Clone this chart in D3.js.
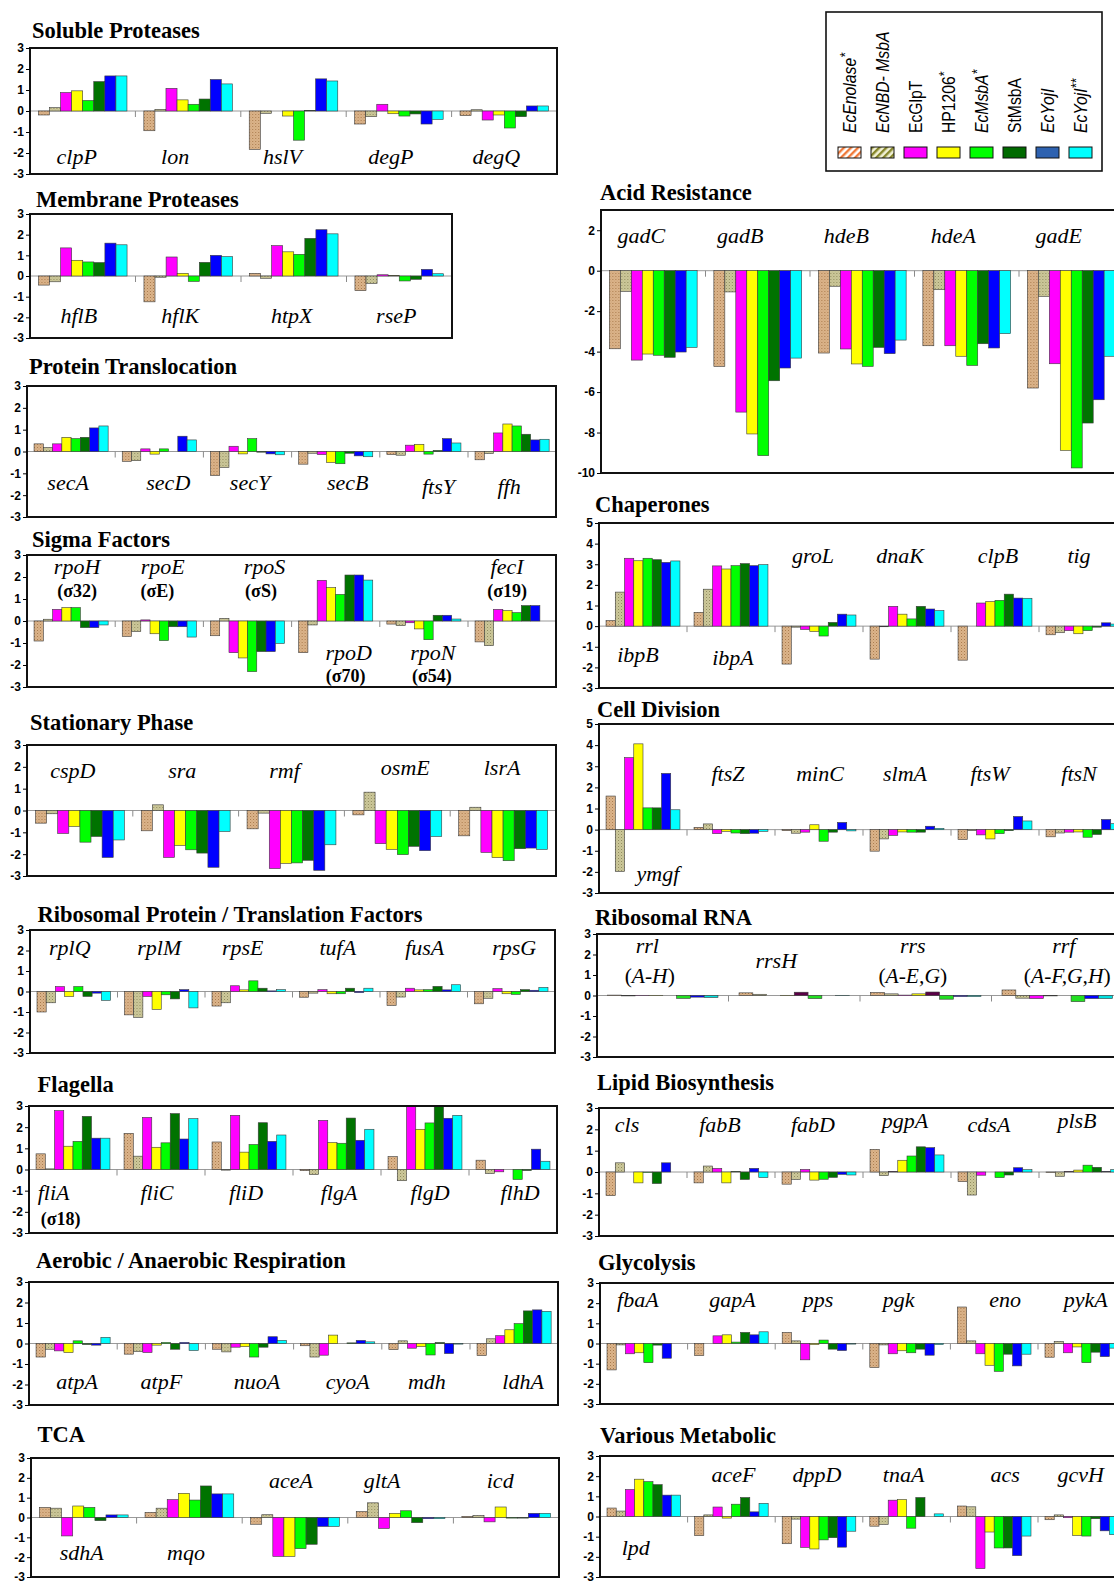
<!DOCTYPE html>
<html><head><meta charset="utf-8">
<script src="https://cdn.jsdelivr.net/npm/d3@7"></script>
<style>body{margin:0;background:#fff;overflow:hidden}svg{display:block}</style>
</head><body><svg id="c" width="1114" height="1584"></svg>
<script>
// ---------- data ----------
const seriesNames = ["EcEnolase*","EcNBD- MsbA","EcGlpT","HP1206*","EcMsbA*","StMsbA","EcYojI","EcYojI**"];
const seriesItalic = [true,true,false,false,true,false,true,true];
const seriesFills = ["url(#tan)","url(#khaki)","#ff00ff","#ffff00","#00ff00","#007300","#0000ff","#00ffff"];
const legendFills = ["url(#legTan)","url(#legKhaki)","#ff00ff","#ffff00","#00ff00","#006a00","#2e62b0","#00ffff"];
const rnaFills = ["url(#tan)","url(#khaki)","#ff00ff","#ffff00","#5a0046","#22e022","#0000ff","#00e0e0"];

const ticks3 = [3,2,1,0,-1,-2,-3];
const ticksAcid = [2,0,-2,-4,-6,-8,-10];
const ticks5 = [5,4,3,2,1,0,-1,-2,-3];

const solubleGenes = ["clpP","lon","hslV","degP","degQ"];
const solubleValues = [
 [-0.19,0.16,0.88,0.96,0.5,1.4,1.67,1.67],
 [-0.94,0.08,1.08,0.53,0.32,0.57,1.5,1.29],
 [-1.83,-0.11,0,-0.24,-1.39,0.03,1.53,1.43],
 [-0.62,-0.27,0.32,-0.13,-0.24,-0.14,-0.62,-0.4],
 [-0.22,0.06,-0.43,-0.19,-0.81,-0.27,0.24,0.24]];

const membraneGenes = ["hflB","hflK","htpX","rseP"];
const membraneValues = [
 [-0.44,-0.28,1.36,0.76,0.68,0.65,1.59,1.51],
 [-1.25,-0.06,0.92,0.13,-0.26,0.66,1.0,0.94],
 [0.13,-0.11,1.47,1.17,1.05,1.82,2.24,2.04],
 [-0.71,-0.36,0.06,0.03,-0.24,-0.16,0.32,0.11]];

const translocGenes = ["secA","secD","secY","secB","ftsY","ffh"];
const translocValues = [
 [0.35,0.18,0.35,0.65,0.59,0.65,1.08,1.17],
 [-0.45,-0.42,0.12,-0.12,0.12,0.0,0.7,0.53],
 [-1.1,-0.73,0.24,-0.11,0.59,-0.03,-0.11,-0.15],
 [-0.58,-0.08,-0.14,-0.5,-0.56,-0.08,-0.2,-0.24],
 [-0.14,-0.17,0.29,0.33,-0.12,0.05,0.59,0.39],
 [-0.38,-0.09,0.85,1.26,1.17,0.79,0.53,0.56]];

const sigmaGenes = ["rpoH","rpoE","rpoS","rpoD","rpoN","fecI"];
const sigmaSubs = ["(σ32)","(σE)","(σS)","(σ70)","(σ54)","(σ19)"];
const sigmaValues = [
 [-0.91,0.08,0.53,0.61,0.61,-0.3,-0.3,-0.18],
 [-0.7,-0.48,0.05,-0.58,-0.89,-0.26,-0.26,-0.73],
 [-0.67,0.12,-1.44,-1.68,-2.3,-1.39,-1.39,-1.02],
 [-1.44,-0.18,1.85,1.52,1.21,2.09,2.09,1.86],
 [-0.14,-0.21,-0.08,-0.36,-0.85,0.26,0.26,0.09],
 [-0.95,-1.12,0.53,0.47,0.38,0.7,0.7,0]];

const stationaryGenes = ["cspD","sra","rmf","osmE","lsrA"];
const stationaryValues = [
 [-0.58,-0.15,-1.05,-0.73,-1.45,-1.19,-2.15,-1.35],
 [-0.93,0.26,-2.15,-1.6,-1.8,-1.95,-2.6,-0.96],
 [-0.84,-0.12,-2.66,-2.42,-2.4,-2.28,-2.74,-1.57],
 [-0.2,0.84,-1.52,-1.78,-2.02,-1.64,-1.84,-1.19],
 [-1.16,0.15,-1.92,-2.16,-2.3,-1.75,-1.72,-1.78]];

const riboGenes = ["rplQ","rplM","rpsE","tufA","fusA","rpsG"];
const riboValues = [
 [-1.0,-0.55,0.24,-0.24,0.24,-0.24,-0.08,-0.43],
 [-1.14,-1.26,-0.24,-0.87,-0.16,-0.36,0.09,-0.8],
 [-0.71,-0.55,0.28,0.08,0.52,0.16,0.03,0.09],
 [-0.28,-0.08,0.09,-0.11,-0.11,0.16,-0.05,0.16],
 [-0.68,-0.27,0.16,0.08,0.09,0.25,0.08,0.33],
 [-0.6,-0.33,0.14,-0.11,-0.14,0.09,0.06,0.2]];

const flagellaGenes = ["fliA","fliC","fliD","flgA","flgD","flhD"];
const flagellaSubs = ["(σ18)","","","","",""];
const flagellaValues = [
 [0.74,0.03,2.78,1.1,1.33,2.51,1.48,1.48],
 [1.71,0.63,2.46,1.05,1.26,2.64,1.44,2.4],
 [1.3,-0.03,2.56,0.82,1.18,2.21,1.33,1.63],
 [-0.05,-0.24,2.32,1.27,1.24,2.43,1.38,1.9],
 [0.61,-0.53,3.1,1.9,2.2,3.1,2.42,2.56],
 [0.44,-0.19,-0.11,0.0,-0.47,-0.05,0.96,0.39]];

const aerobicGenes = ["atpA","atpF","nuoA","cyoA","mdh","ldhA"];
const aerobicValues = [
 [-0.66,-0.28,-0.36,-0.44,0.13,-0.05,-0.08,0.3],
 [-0.52,-0.39,-0.44,-0.08,0.05,-0.28,0.05,-0.34],
 [-0.28,-0.41,-0.18,-0.15,-0.66,-0.18,0.33,0.15],
 [-0.11,-0.66,-0.57,0.41,0.0,0.03,0.15,0.08],
 [-0.3,0.13,-0.23,-0.15,-0.56,0.05,-0.49,-0.03],
 [-0.59,0.23,0.38,0.67,0.97,1.59,1.64,1.57]];

const tcaGenes = ["sdhA","mqo","aceA","gltA","icd"];
const tcaValues = [
 [0.51,0.47,-0.93,0.58,0.51,-0.16,0.13,0.13],
 [0.26,0.47,0.9,1.22,0.88,1.59,1.19,1.19],
 [-0.34,0.14,-1.96,-1.96,-1.57,-1.35,-0.45,-0.45],
 [0.3,0.74,-0.55,0.21,0.34,-0.26,-0.06,-0.06],
 [0.06,0.1,-0.22,0.53,-0.03,-0.03,0.21,0.21]];

const acidGenes = ["gadC","gadB","hdeB","hdeA","gadE"];
const acidValues = [
 [-3.86,-1.02,-4.42,-4.12,-4.18,-4.28,-4.02,-3.79],
 [-4.73,-1.05,-6.99,-8.07,-9.14,-5.44,-4.81,-4.32],
 [-4.07,-0.77,-3.87,-4.61,-4.73,-3.79,-4.1,-3.43],
 [-3.71,-0.94,-3.71,-4.23,-4.68,-3.61,-3.82,-3.11],
 [-5.8,-1.27,-4.6,-8.88,-9.75,-7.53,-6.38,-4.23]];

const chaperoneGenes = ["ibpB","ibpA","groL","dnaK","clpB","tig"];
const chaperoneValues = [
 [0.27,1.65,3.29,3.17,3.29,3.22,3.09,3.16],
 [0.67,1.79,2.92,2.77,2.93,3.03,2.93,2.98],
 [-1.84,-0.05,-0.16,-0.26,-0.48,0.18,0.58,0.54],
 [-1.6,-0.03,0.96,0.58,0.35,0.96,0.83,0.75],
 [-1.65,0,1.12,1.19,1.25,1.55,1.36,1.35],
 [-0.42,-0.32,-0.22,-0.37,-0.22,-0.05,0.16,0.1]];

const divisionGenes = ["ymgf","ftsZ","minC","slmA","ftsW","ftsN"];
const divisionValues = [
 [1.59,-1.98,3.41,4.06,1.03,1.03,2.66,0.94],
 [0.11,0.27,-0.19,-0.08,-0.16,-0.19,-0.17,-0.08],
 [-0.05,-0.17,-0.12,0.23,-0.55,-0.12,0.34,-0.06],
 [-1.02,-0.44,-0.27,-0.11,-0.12,-0.12,0.16,0.06],
 [-0.47,-0.05,-0.25,-0.44,-0.19,-0.05,0.62,0.41],
 [-0.34,-0.16,-0.12,-0.11,-0.36,-0.23,0.48,0.28]];

const rnaGenes = ["rrl","rrsH","rrs","rrf"];
const rnaSubs = ["(A-H)","","(A-E,G)","(A-F,G,H)"];
const rnaValues = [
 [0.02,-0.02,0.01,0.01,0.0,-0.14,-0.08,-0.1],
 [0.13,0.06,0.0,0.01,0.16,-0.15,0.0,0.01],
 [0.15,0.08,0.02,0.08,0.17,-0.18,-0.05,-0.05],
 [0.27,-0.13,-0.15,-0.02,0.0,-0.3,-0.15,-0.15]];

const lipidGenes = ["cls","fabB","fabD","pgpA","cdsA","plsB"];
const lipidValues = [
 [-1.11,0.43,0,-0.51,-0.02,-0.54,0.43,0],
 [-0.51,0.28,0.17,-0.51,0.02,-0.35,0.17,-0.26],
 [-0.57,-0.35,0.12,-0.38,-0.34,-0.25,-0.11,-0.14],
 [1.06,-0.17,0.02,0.55,0.75,1.18,1.14,0.8],
 [-0.45,-1.08,-0.15,0,-0.26,-0.14,0.2,0.11],
 [-0.02,-0.2,0.02,0.09,0.32,0.22,0.02,0.11]];

const glycoGenes = ["fbaA","gapA","pps","pgk","eno","pykA"];
const glycoValues = [
 [-1.31,-0.07,-0.51,-0.46,-0.95,-0.08,-0.73,0],
 [-0.6,0,0.38,0.43,0.07,0.55,0.43,0.58],
 [0.55,0.13,-0.81,-0.05,0.17,-0.28,-0.35,-0.03],
 [-1.19,-0.07,-0.51,-0.36,-0.46,-0.28,-0.58,-0.05],
 [1.81,0.13,-0.51,-1.08,-1.38,-0.53,-1.11,-0.53],
 [-0.68,0.1,-0.46,-0.17,-0.95,-0.43,-0.65,-0.23]];

const variousGenes = ["lpd","aceF","dppD","tnaA","acs","gcvH"];
const variousValues = [
 [0.42,0.27,1.34,1.85,1.73,1.58,1.06,1.06],
 [-0.95,0.08,0.47,-0.08,0.61,0.94,0.23,0.65],
 [-1.35,-0.13,-1.53,-1.61,-1.16,-1.05,-1.52,-0.73],
 [-0.48,-0.39,0.81,0.84,-0.58,0.94,0,0.13],
 [0.52,0.48,-2.58,-0.77,-1.56,-1.56,-1.94,-0.97],
 [-0.16,0.08,-0.06,-0.94,-0.97,-0.11,-0.71,-0.9]];

// ---------- layout (positions only) ----------
const rep = (v,n) => Array(n).fill(v);
const panels = [
 {title:"Soluble Proteases", genes:solubleGenes, values:solubleValues, left:30, step:105.4, right:557, top:48, bottom:174, domain:[-3,3], ticks:ticks3, tx:32, ty:38,
  ldx:[-6,-13,-11,-8,-8], ly:rep(-2.52,5)},
 {title:"Membrane Proteases", genes:membraneGenes, values:membraneValues, left:30, step:105.5, right:452, top:214, bottom:338, domain:[-3,3], ticks:ticks3, tx:36, ty:207,
  ldx:[-4,-8,-2,-3], ly:rep(-2.28,4)},
 {title:"Protein Translocation", genes:translocGenes, values:translocValues, left:27, step:88.2, right:556, top:386, bottom:517, domain:[-3,3], ticks:ticks3, tx:29, ty:374,
  ldx:[-3,9,2.5,12,14.6,-3], ly:[-1.77,-1.77,-1.77,-1.77,-1.95,-1.95]},
 {title:"Sigma Factors", genes:sigmaGenes, values:sigmaValues, left:27, step:88.2, right:556, top:555, bottom:687, domain:[-3,3], ticks:ticks3, tx:32, ty:547,
  ldx:[6,3.5,17,13,9,-5], ly:[2.14,2.14,2.14,-1.77,-1.77,2.14],
  subs:sigmaSubs, sdx:[6,-2,13.5,10,8,-5], sy:[1.09,1.09,1.09,-2.77,-2.77,1.09], subBold:true},
 {title:"Stationary Phase", genes:stationaryGenes, values:stationaryValues, left:27, step:105.8, right:556, top:745, bottom:876, domain:[-3,3], ticks:ticks3, tx:30, ty:730,
  ldx:[-7,-3.5,-7,8,-1], ly:[1.51,1.51,1.51,1.64,1.64]},
 {title:"Ribosomal Protein / Translation Factors", genes:riboGenes, values:riboValues, left:30, step:87.5, right:555, top:930, bottom:1053, domain:[-3,3], ticks:ticks3, tx:37.5, ty:922,
  ldx:[-4,-2,-6,1.5,1,3], ly:rep(1.8,6)},
 {title:"Flagella", genes:flagellaGenes, values:flagellaValues, left:29, step:88, right:557, top:1106, bottom:1233, domain:[-3,3], ticks:ticks3, tx:37.5, ty:1092,
  ldx:[-19.4,-4,-3,2,5,7], ly:rep(-1.46,6),
  subs:flagellaSubs, sdx:[-12.3,0,0,0,0,0], sy:rep(-2.64,6), subBold:true},
 {title:"Aerobic / Anaerobic Respiration", genes:aerobicGenes, values:aerobicValues, left:29, step:88.2, right:558, top:1282, bottom:1405, domain:[-3,3], ticks:ticks3, tx:36, ty:1268,
  ldx:[4,0,7.5,10,1,9], ly:rep(-2.2,6)},
 {title:"TCA", genes:tcaGenes, values:tcaValues, left:31, step:105.6, right:559, top:1458, bottom:1577, domain:[-3,3], ticks:ticks3, tx:37.5, ty:1442,
  ldx:[-2,-3.4,-4,-18.6,-6], ly:[-2.12,-2.12,1.5,1.5,1.5]},
 {title:"Acid Resistance", genes:acidGenes, values:acidValues, left:601, step:104.5, right:1140, top:210, bottom:473, domain:[-10,3], ticks:ticksAcid, tx:600, ty:200,
  ldx:[-12,-17.5,-16,-13.5,-12.5], ly:rep(1.38,5)},
 {title:"Chaperones", genes:chaperoneGenes, values:chaperoneValues, left:599, step:88, right:1140, top:523, bottom:688, domain:[-3,5], ticks:ticks5, tx:595, ty:512,
  ldx:[-5,2,-6,-7,3,-4], ly:[-1.73,-1.88,3.08,3.08,3.08,3.08]},
 {title:"Cell Division", genes:divisionGenes, values:divisionValues, left:599, step:88, right:1140, top:724, bottom:893, domain:[-3,5], ticks:ticks5, tx:597, ty:717,
  ldx:[15,-3,1,-2,-5,-4], ly:[-2.44,2.3,2.3,2.3,2.3,2.3]},
 {title:"Ribosomal RNA", genes:rnaGenes, values:rnaValues, fills:rnaFills, left:597, step:131.5, right:1140, top:934, bottom:1057, domain:[-3,3], ticks:ticks3, tx:595, ty:925,
  ldx:[-15.5,-18,-13,6.6], ly:[2.05,1.32,2.05,2.05],
  subs:rnaSubs, sdx:[-13,0,-13,10], sy:rep(0.63,4), subBold:false},
 {title:"Lipid Biosynthesis", genes:lipidGenes, values:lipidValues, left:599, step:88, right:1140, top:1108, bottom:1236, domain:[-3,3], ticks:ticks3, tx:597, ty:1090,
  ldx:[-16,-11,-6,-2,-6,-6], ly:[1.89,1.89,1.89,2.07,1.89,2.07]},
 {title:"Glycolysis", genes:glycoGenes, values:glycoValues, left:600, step:87.6, right:1140, top:1283, bottom:1404, domain:[-3,3], ticks:ticks3, tx:598, ty:1270,
  ldx:[-6,1,-1,-8,11,4], ly:rep(1.83,6)},
 {title:"Various Metabolic", genes:variousGenes, values:variousValues, left:600, step:87.6, right:1140, top:1456, bottom:1577, domain:[-3,3], ticks:ticks3, tx:600, ty:1443,
  ldx:[-8,2,-2,-3,11,-1], ly:[-1.93,1.69,1.69,1.69,1.69,1.69]}
];

const SERIF = "'Liberation Serif','Times New Roman',serif";
const SANS = "'Liberation Sans',Arial,sans-serif";

const svg = d3.select("#c");
const defs = svg.append("defs");
function dotPattern(id, base, dot){
  const p = defs.append("pattern").attr("id",id).attr("width",3).attr("height",3).attr("patternUnits","userSpaceOnUse");
  p.append("rect").attr("width",3).attr("height",3).attr("fill",base);
  p.append("rect").attr("width",1).attr("height",1).attr("fill",dot);
  p.append("rect").attr("x",1.5).attr("y",1.5).attr("width",1).attr("height",1).attr("fill",dot).attr("opacity",0.5);
}
dotPattern("tan","#dcb48a","#a87a4c");
dotPattern("khaki","#cdc89a","#8d8a5c");
function stripePattern(id, bg, fg){
  const p = defs.append("pattern").attr("id",id).attr("width",5).attr("height",5).attr("patternUnits","userSpaceOnUse").attr("patternTransform","rotate(45)");
  p.append("rect").attr("width",5).attr("height",5).attr("fill",bg);
  p.append("rect").attr("width",2.4).attr("height",5).attr("fill",fg);
}
stripePattern("legTan","#ffffff","#f07a3a");
stripePattern("legKhaki","#f2f2d8","#86862a");

function addLabel(g, text, x, y, opts){
  const t = g.append("text").attr("x",x).attr("y",y).attr("text-anchor","middle")
    .attr("font-family",SERIF).attr("fill","#000");
  if (opts.kind === "gene") {
    t.attr("font-style","italic").attr("font-size",22).text(text);
  } else if (opts.kind === "subBold") {
    t.attr("font-weight","bold").attr("font-size",18).text(text);
  } else {
    t.attr("font-size",21.5);
    t.append("tspan").text("(");
    t.append("tspan").attr("font-style","italic").text(text.slice(1,-1));
    t.append("tspan").text(")");
  }
}

panels.forEach(p => {
  const g = svg.append("g");
  const n = p.genes.length;
  const x0 = d3.scaleBand().domain(p.genes).range([p.left, p.left + n*p.step]).paddingInner(0.16).paddingOuter(0.08);
  const x1 = d3.scaleBand().domain(d3.range(8)).range([0, x0.bandwidth()]);
  const y = d3.scaleLinear().domain(p.domain).range([p.bottom, p.top]).clamp(true);
  const fills = p.fills || seriesFills;

  g.append("rect").attr("x",p.left).attr("y",p.top).attr("width",p.right-p.left).attr("height",p.bottom-p.top).attr("fill","#fff");
  g.append("line").attr("x1",p.left).attr("x2",p.right).attr("y1",y(0)).attr("y2",y(0)).attr("stroke","#9a9a9a").attr("stroke-width",1);

  p.genes.forEach((gene, gi) => {
    const gg = g.append("g").attr("transform",`translate(${x0(gene)},0)`);
    gg.selectAll("rect").data(p.values[gi]).join("rect")
      .attr("x",(d,i)=>x1(i)).attr("width",x1.bandwidth())
      .attr("y",d=>Math.min(y(d),y(0))).attr("height",d=>Math.abs(y(d)-y(0)))
      .attr("fill",(d,i)=>fills[i]).attr("stroke","#3a3a3a").attr("stroke-width",0.6);
  });
  for (let i=1;i<n;i++){
    const sx = x0.range()[0] + i*x0.step();
    g.append("line").attr("x1",sx).attr("x2",sx).attr("y1",y(0)).attr("y2",y(0)+6).attr("stroke","#8a8a8a").attr("stroke-width",1);
  }
  g.append("rect").attr("x",p.left).attr("y",p.top).attr("width",p.right-p.left).attr("height",p.bottom-p.top)
    .attr("fill","none").attr("stroke","#111").attr("stroke-width",2);

  const ax = g.append("g").attr("transform",`translate(${p.left},0)`)
    .call(d3.axisLeft(y).tickValues(p.ticks).tickSize(4).tickPadding(2).tickFormat(d=>String(d)));
  ax.select(".domain").remove();
  ax.selectAll("line").attr("stroke","#000");
  ax.selectAll("text").attr("font-family",SANS).attr("font-weight","bold").attr("font-size",12).attr("fill","#000");

  g.append("text").attr("x",p.tx).attr("y",p.ty).attr("font-family",SERIF).attr("font-weight","bold")
    .attr("font-size",22.5).attr("fill","#000").text(p.title);

  p.genes.forEach((gene, gi) => {
    const cx = x0.range()[0] + (gi+0.5)*x0.step();
    addLabel(g, gene, cx + p.ldx[gi], y(p.ly[gi]), {kind:"gene"});
    if (p.subs && p.subs[gi]) {
      addLabel(g, p.subs[gi], cx + p.sdx[gi], y(p.sy[gi]), {kind: p.subBold ? "subBold" : "paren"});
    }
  });
});

// ---------- legend ----------
const lg = svg.append("g");
lg.append("rect").attr("x",826).attr("y",12).attr("width",276).attr("height",159).attr("fill","#fff").attr("stroke","#111").attr("stroke-width",1.6);
const legX = d3.scalePoint().domain(seriesNames).range([849.5,1080.5]);
seriesNames.forEach((name,i) => {
  const cx = legX(name);
  lg.append("rect").attr("x",cx-11.5).attr("y",147).attr("width",23).attr("height",11)
    .attr("fill",legendFills[i]).attr("stroke","#111").attr("stroke-width",1);
  const m = name.match(/^(.*?)(\**)$/);
  const t = lg.append("text").attr("transform",`translate(${cx+6},133) rotate(-90) scale(0.9,1)`)
    .attr("font-family",SANS).attr("font-size",17.5).attr("fill","#000")
    .attr("font-style", seriesItalic[i] ? "italic" : "normal");
  t.append("tspan").text(m[1]);
  if (m[2]) t.append("tspan").attr("dy",-6).attr("font-size",14).text(m[2]);
});
</script>
</body></html>
